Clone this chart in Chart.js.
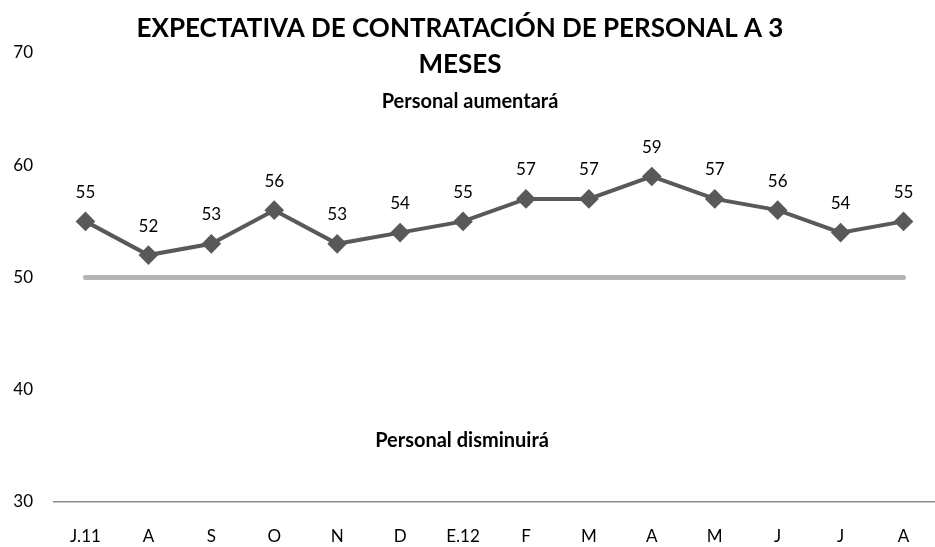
<!DOCTYPE html>
<html>
<head>
<meta charset="utf-8">
<script src="https://cdn.jsdelivr.net/npm/chart.js@4/dist/chart.umd.min.js"></script>
<style>
  html, body { margin: 0; padding: 0; background: #fff; }
  #wrap { width: 935px; height: 547px; }
</style>
</head>
<body>
<div id="wrap"><canvas id="chart" width="935" height="547"></canvas></div>
<script>
// Expectativa de contratación a 3 meses
const months = ['J.11', 'A', 'S', 'O', 'N', 'D', 'E.12', 'F', 'M', 'A', 'M', 'J', 'J', 'A'];
const expectativa = [55, 52, 53, 56, 53, 54, 55, 57, 57, 59, 57, 56, 54, 55];
const umbral = [50, 50, 50, 50, 50, 50, 50, 50, 50, 50, 50, 50, 50, 50];
const yTicks = [30, 40, 50, 60, 70];

const FONT = 'Lato, "Open Sans", sans-serif';

// titles, zone labels and point values
const textPlugin = {
    id: 'texts',
    afterDatasetsDraw(chart) {
        const ctx = chart.ctx;
        ctx.save();
        ctx.fillStyle = '#000';
        ctx.textAlign = 'center';
        ctx.textBaseline = 'middle';

        ctx.font = 'bold 26px ' + FONT;
        ctx.fillText('EXPECTATIVA DE CONTRATACIÓN DE PERSONAL A 3', 460, 29);
        ctx.fillText('MESES', 460, 65);

        ctx.font = 'bold 20px ' + FONT;
        ctx.fillText('Personal aumentará', 470, 102);
        ctx.fillText('Personal disminuirá', 462, 441);

        ctx.font = '17px ' + FONT;
        const meta = chart.getDatasetMeta(0);
        meta.data.forEach((pt, i) => {
            ctx.fillText(String(expectativa[i]), pt.x, pt.y - 29);
        });
        ctx.restore();
    }
};

const ctx = document.getElementById('chart').getContext('2d');
new Chart(ctx, {
    type: 'line',
    data: {
        labels: months,
        datasets: [{
            label: 'Expectativa',
            data: expectativa,
            borderColor: '#595959',
            backgroundColor: '#595959',
            borderWidth: 4,
            pointStyle: 'rectRot',
            pointRadius: 7,
            pointHoverRadius: 7,
            tension: 0,
            order: 0
        }, {
            label: 'Umbral',
            data: umbral,
            borderColor: '#b4b4b4',
            borderWidth: 5,
            borderCapStyle: 'round',
            pointRadius: 0,
            order: 1
        }]
    },
    options: {
        responsive: false,
        animation: false,
        layout: { autoPadding: false, padding: { top: 53, right: 0, left: 0, bottom: 0 } },
        plugins: {
            legend: { display: false },
            tooltip: { enabled: false }
        },
        scales: {
            x: {
                offset: true,
                afterFit: s => { s.height = 45; },
                grid: { display: false, drawTicks: true, tickLength: 20 },
                border: { display: true, color: '#8c8c8c', width: 1.5 },
                ticks: { color: '#000', font: { family: FONT, size: 17 }, padding: 4 }
            },
            y: {
                min: 30,
                max: 70,
                afterBuildTicks: s => { s.ticks = yTicks.map(v => ({ value: v })); },
                afterFit: s => { s.width = 54; },
                grid: { display: false, drawTicks: false },
                border: { display: false },
                ticks: { color: '#000', font: { family: FONT, size: 17 }, padding: 21 }
            }
        }
    },
    plugins: [textPlugin]
});
</script>
</body>
</html>
